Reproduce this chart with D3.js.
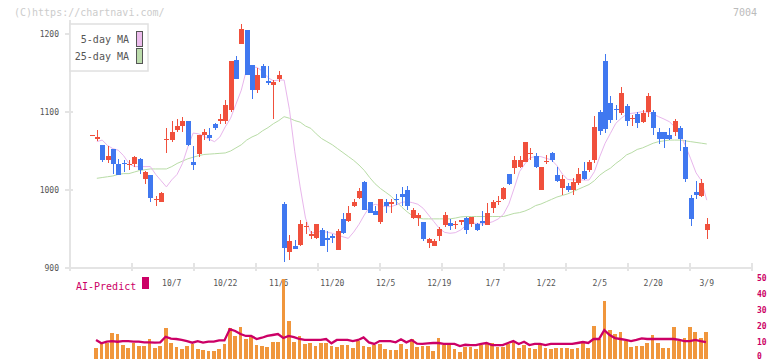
<!DOCTYPE html>
<html>
<head>
<meta charset="utf-8">
<script src="https://cdn.jsdelivr.net/npm/d3@7"></script>
<style>
  body { margin: 0; background: #fff; }
  svg { display: block; font-family: "DejaVu Sans Mono", monospace; }
</style>
</head>
<body>
<div id="chart"></div>
<script>
const FRAME_WIDTH = 772;
const FRAME_HEIGHT = 361;

// daily candles, index 0 = 9/12 ... index 115 = 3/9
const opens  = [1070,1065,1058,1038,1053,1033,1035,1032,1033,1040,1014,1019,988,985,1065,1064,1077,1082,1088,1036,
                1046,1070,1070,1085,1088,1089,1103,1167,1187,1205,1160,1128,1159,1140,1134,1142,982,920,928,929,
                952,941,939,949,939,941,923,963,960,979,990,1010,984,973,959,984,982,989,995,1000,
                964,964,959,932,928,941,955,958,955,959,964,956,957,960,955,977,984,988,1020,1028,
                1030,1036,1047,1043,1000,1036,1048,1019,1003,1005,1000,1009,1024,1026,1038.5,1100.5,1166,1111,1104,1099,
                1108,1090.5,1097.5,1087.5,1100.5,1100.5,1074,1074,1070.5,1074,1080,1055.6,990,998,992,948.7];
const highs  = [1070,1077,1058,1056,1053,1040,1038,1039,1043,1041,1024,1019,992,997,1080,1088,1091,1094,1089,1056,
                1071,1078,1079,1086,1098,1115,1165,1172,1213,1205,1160,1157,1161,1159,1141,1153,984,942,936,962,
                959,947,957,951,947,944,950,971,979,989,1002,1011,985,980,989,988,988,995,1004,1005,
                977,970,959,939,937,953,972,963,960,962,966,966,958,973,983,987,992,1004,1021,1043,
                1043,1061,1054,1048,1030,1045,1049,1030,1019,1009,1016,1028,1036,1039,1095,1103,1174,1121,1109,1132.5,
                1110,1096,1100,1102,1125,1103,1080,1074,1079,1090.6,1082,1064,993.6,1011.6,1013.7,964.5];
const lows   = [1070,1063,1036,1034,1021,1019,1023,1026,1030,1020,1008,985,980,985,1048,1062,1075,1074,1056,1026,
                1042,1064,1063,1077,1085,1085,1100,1142,1187,1147,1117,1125,1144,1135,1091,1139,908,910,924,928,
                944,937,937,928,920,932,923,944,959,978,988,974,970,968,956,971,971,981,980,975,
                963,954,935,926,928,935,952,949,950,955,943,953,948,954,955,970,981,987,1006,1020,
                1028,1036,1038,1028,1000,1033,1036,1010,994,997,994,1006,1013,1023,1035,1070,1073,1086,1090,1096,
                1082,1082.5,1079,1086,1093,1070.5,1058.6,1053.5,1064,1069.7,1050.5,1010.7,954,988.5,991.5,937];
const closes = [1070,1068,1038,1043,1033,1019,1033,1033,1042,1026,1023,990,989,996,1066,1074,1082,1088,1058,1032,
                1070,1074,1067,1079,1091,1109,1165,1142,1206,1147,1128,1147,1144,1137,1139,1147,926,935,924,957,
                954,943,956,928,936,938,948,945,971,984,999,975,971,968,988,979,984,987,991,979,
                974,968,937,937,934,950,968,954,956,962,949,966,949,958,971,985,985.5,1003,1008,1039,
                1039,1061,1048,1029,1030,1037,1038,1011,1014,1000,1010,1021,1014,1035.5,1081,1076,1078,1090,1102,1125,
                1088,1092,1085.5,1099,1120.5,1079,1065,1065,1065,1088.5,1065,1014,963,993,1008.6,956.4];

// moving averages (index 0 has none)
const ma5  = [null,1062,1064,1057,1053,1051,1044,1034,1030,1030,1030,1030,1020,1012,1004,1013,1020,1034,1055,1073,1072,
              1069,1065,1062,1068,1081,1092,1110,1128,1155,1158,1157,1152,1144,1140,1141,1141,1103,1049,1004,964,
              944.5,946.6,946.6,946,944.5,942.3,940,938,946,956,968,978.7,981.7,980,978.7,978.7,981,984.2,985,983.8,
              981.7,976.5,968,959.4,950.9,945.7,944.5,945.3,948.7,954.7,957.3,957.3,956.4,957.3,959.4,962.8,968.8,981.7,1002.2,1023.5,
              1033.4,1041.5,1042.8,1042.8,1040.6,1038.5,1031.2,1020.5,1013.7,1012.8,1012.8,1012.8,1012.8,1023.5,1042.8,1059.9,1072.7,1085.5,1091.9,1097,
              1098.3,1099.2,1100.5,1099.6,1097,1094,1091,1087.6,1081.2,1070.5,1057,1040,1022,1012,987];
const ma25 = [null,1015,1016,1017,1018,1020,1021,1021,1023,1025,1026,1027,1027,1027,1027,1030,1034,1037,1040,1042,1044,
              1045.5,1046,1046.5,1047,1047.5,1050,1054,1058,1064,1068,1071,1076,1080,1085,1089,1094,1092,1089,1087,1082,
              1079,1072,1066,1062,1058,1053,1048,1043,1038,1032,1025,1016,1008,1002,997,992,985,978,972,967,
              964,963,963,963,963,963,963,964,965.5,966,966,966,966,966,966,966,966,968,970,971,
              973,976,980,982,985,988,991,993,995,998,1001,1004,1007,1012,1019,1024,1028,1034,1039,1045,
              1048,1052,1054,1057,1060,1062,1063,1064,1064,1064,1063,1062,1061,1060,1059];

// lower panel: volume bars and AI-Predict line (same 0-50 units)
const volume = [null,7.1,9.4,9.8,16.4,15.6,8.7,7.1,9.8,8.1,8.1,12.5,7.1,8.1,19.4,10.2,7.5,6.4,8.1,9.4,6.4,
                5.6,5.0,5.0,6.2,9.4,19.4,14.6,20.0,12.5,13.5,8.7,8.1,7.5,10.6,10.6,49.7,23.7,10.6,14.4,9.4,
                10.0,8.1,10.0,10.0,8.1,7.5,8.7,8.7,6.9,11.0,8.1,7.5,8.7,9.4,6.2,5.6,5.6,9.4,6.2,12.5,
                7.5,8.1,8.1,5.0,13.1,8.7,8.7,6.2,4.4,7.5,7.5,6.2,8.7,9.4,10.0,7.5,7.5,9.4,11.2,6.9,
                8.7,6.9,6.2,8.7,6.9,6.2,6.9,6.9,6.9,6.2,6.9,10.6,6.9,20.6,12.5,36.2,18.1,15.6,16.9,11.2,
                7.5,8.1,8.1,10.0,15.0,10.0,6.9,6.9,20.0,11.2,13.1,20.0,16.9,13.1,16.9];
const aiPredict = [null,11.9,9.8,10.8,11.2,10.8,11.2,11.2,10.8,10.8,10.4,10.4,10.2,10.4,13.9,12.7,12.5,11.9,11.2,10.2,11.2,
                   10.2,10.8,10.8,11.6,11.6,18.7,17.5,15.6,14.4,14.4,12.5,13.3,14.4,15.0,15.6,13.1,14.4,13.7,12.5,11.9,
                   11.9,11.9,11.9,12.5,9.8,11.9,11.9,11.9,11.2,11.9,13.5,10.4,9.4,11.2,11.2,11.2,10.4,12.3,10.4,11.9,
                   9.6,9.4,9.8,10.0,10.0,9.4,9.4,9.4,8.1,8.9,8.7,8.7,9.4,10.0,8.7,8.7,8.7,10.0,11.2,9.4,
                   10.8,8.7,9.4,9.4,8.7,9.4,9.4,9.4,9.4,9.4,10.0,10.6,10.0,12.5,12.5,18.1,15.0,13.1,12.5,11.9,
                   11.2,11.9,12.9,12.5,12.5,12.5,12.5,12.5,12.5,11.9,11.2,11.2,11.9,11.2,10.6];

const dateLabels = ["10/7","10/22","11/6","11/20","12/5","12/19","1/7","1/22","2/5","2/20","3/9"];
const dateLabelIdx = [15,25,35,45,55,65,75,85,95,105,115];
const priceTicks = [900,1000,1100,1200];
const aiTicks = [0,10,20,30,40,50];

const RED = "#f0503c", BLUE = "#4078f0", AXIS = "#e4e4e4", CRIMSON = "#cc0066";

const N = closes.length;
const idx = d3.range(N);

const svg = d3.select("#chart").append("svg")
  .attr("width", FRAME_WIDTH)
  .attr("height", FRAME_HEIGHT);

const X_SCALE = d3.scaleLinear().domain([0, N - 1]).range([91.5, 706.75]);
const Y_SCALE = d3.scaleLinear().domain([900, 1200]).range([268, 34]);
const V_SCALE = d3.scaleLinear().domain([0, 50]).range([359, 279]);

// watermark + code
svg.append("text").attr("x", 14).attr("y", 16)
  .attr("font-size", 10).attr("fill", "#cccccc")
  .text("(C)https://chartnavi.com/");
svg.append("text").attr("x", 757).attr("y", 16)
  .attr("font-size", 10).attr("fill", "#bbbbbb").attr("text-anchor", "end")
  .text("7004");

// axes frame
const axisG = svg.append("g").attr("shape-rendering", "crispEdges");
axisG.append("line").attr("x1", 70).attr("x2", 70).attr("y1", 20).attr("y2", 269)
  .attr("stroke", AXIS).attr("stroke-width", 2);
axisG.append("line").attr("x1", 65).attr("x2", 752).attr("y1", 268).attr("y2", 268)
  .attr("stroke", AXIS).attr("stroke-width", 2);
axisG.selectAll(".xtick").data(d3.range(70, 753, 62)).enter().append("line")
  .attr("x1", d => d).attr("x2", d => d).attr("y1", 263).attr("y2", 271)
  .attr("stroke", AXIS).attr("stroke-width", 2);
axisG.selectAll(".ytick").data(priceTicks).enter().append("line")
  .attr("x1", 65).attr("x2", 73).attr("y1", d => Y_SCALE(d)).attr("y2", d => Y_SCALE(d))
  .attr("stroke", AXIS).attr("stroke-width", 2);
svg.selectAll(".ylabel").data(priceTicks).enter().append("text")
  .attr("x", 59).attr("y", d => Y_SCALE(d) + 3)
  .attr("text-anchor", "end").attr("font-size", 8).attr("fill", "#555")
  .text(d => d);

// date labels
svg.selectAll(".xlabel").data(dateLabels).enter().append("text")
  .attr("x", (d, i) => X_SCALE(dateLabelIdx[i]))
  .attr("y", 286)
  .attr("text-anchor", "middle").attr("font-size", 8).attr("fill", "#555")
  .text(d => d);

// moving averages
function maLine(arr) {
  return d3.line()
    .defined(i => arr[i] != null)
    .x(i => X_SCALE(i))
    .y(i => Y_SCALE(arr[i]));
}
svg.append("path").datum(idx).attr("d", maLine(ma25))
  .attr("fill", "none").attr("stroke", "#b8dca6").attr("stroke-width", 1);
svg.append("path").datum(idx).attr("d", maLine(ma5))
  .attr("fill", "none").attr("stroke", "#e8b6ec").attr("stroke-width", 1);

// candles
const candles = svg.append("g").attr("shape-rendering", "crispEdges")
  .selectAll("g").data(idx).enter().append("g");
candles.append("line")
  .attr("x1", i => Math.round(X_SCALE(i)) + 0.5).attr("x2", i => Math.round(X_SCALE(i)) + 0.5)
  .attr("y1", i => Y_SCALE(highs[i])).attr("y2", i => Y_SCALE(lows[i]))
  .attr("stroke", i => closes[i] >= opens[i] ? RED : BLUE);
candles.append("rect")
  .attr("x", i => Math.round(X_SCALE(i)) - 2)
  .attr("width", 5)
  .attr("y", i => Y_SCALE(Math.max(opens[i], closes[i])))
  .attr("height", i => Math.max(1, Math.abs(Y_SCALE(opens[i]) - Y_SCALE(closes[i]))))
  .attr("fill", i => closes[i] >= opens[i] ? RED : BLUE);

// legend
const legend = svg.append("g");
legend.append("rect").attr("x", 70).attr("y", 24).attr("width", 78).attr("height", 47)
  .attr("fill", "#fff").attr("stroke", "#e0e0e0").attr("stroke-width", 1.5);
const legendItems = [{name: "5-day MA", color: "#ecbcec"}, {name: "25-day MA", color: "#bcdcac"}];
legendItems.forEach((d, i) => {
  legend.append("text").attr("x", 129).attr("y", 43 + i * 17)
    .attr("text-anchor", "end").attr("font-size", 10).attr("fill", "#555").text(d.name);
  legend.append("rect").attr("x", 136.5).attr("y", 31.5 + i * 17).attr("width", 6).attr("height", 15)
    .attr("fill", d.color).attr("stroke", "#555").attr("stroke-width", 1);
});

// lower panel
svg.append("text").attr("x", 76).attr("y", 290)
  .attr("font-size", 10).attr("fill", CRIMSON).text("AI-Predict");
svg.append("rect").attr("x", 142).attr("y", 277).attr("width", 7).attr("height", 12)
  .attr("fill", CRIMSON);

svg.append("g").attr("shape-rendering", "crispEdges")
  .selectAll("rect").data(idx.filter(i => volume[i] != null)).enter().append("rect")
  .attr("x", i => X_SCALE(i) - 2.6)
  .attr("width", 3.7)
  .attr("y", i => V_SCALE(volume[i]))
  .attr("height", i => V_SCALE(0) - V_SCALE(volume[i]))
  .attr("fill", "#f0963c");

svg.append("path").datum(idx)
  .attr("d", d3.line().defined(i => aiPredict[i] != null).x(i => X_SCALE(i) - 0.8).y(i => V_SCALE(aiPredict[i])))
  .attr("fill", "none").attr("stroke", CRIMSON).attr("stroke-width", 2.3);

svg.selectAll(".ailabel").data(aiTicks).enter().append("text")
  .attr("x", 757).attr("y", d => Math.min(V_SCALE(d) + 2, 359))
  .attr("font-size", 8).attr("font-weight", "bold").attr("fill", CRIMSON)
  .text(d => d);
</script>
</body>
</html>
